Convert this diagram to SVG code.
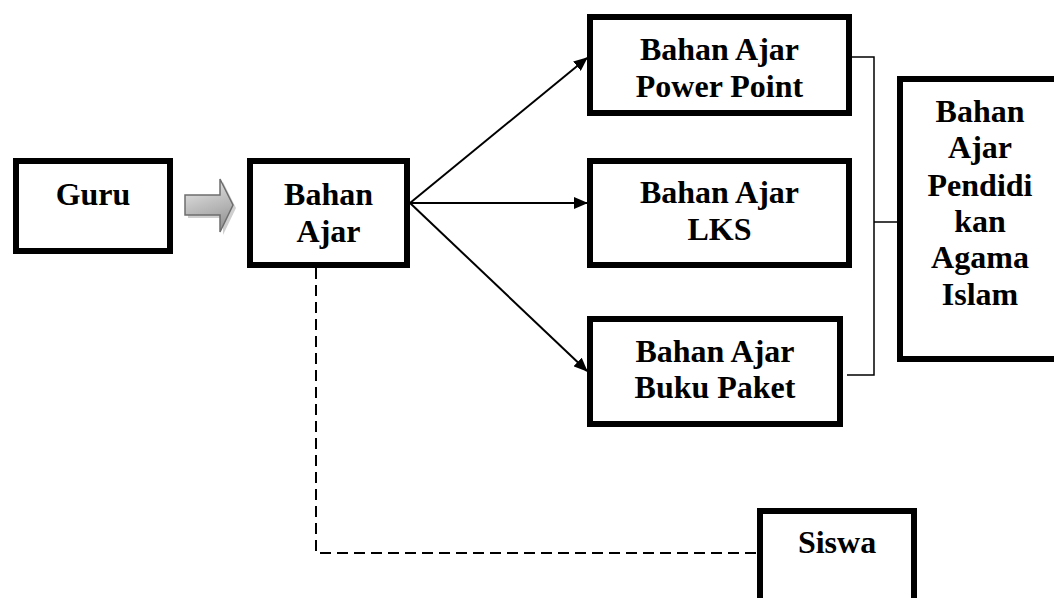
<svg xmlns="http://www.w3.org/2000/svg" width="1054" height="598" viewBox="0 0 1054 598">
<style>
.box{fill:#fff;stroke:#000;stroke-width:6}
.t{font-family:"Liberation Serif","Times New Roman",serif;font-weight:bold;font-size:32px;text-anchor:middle;fill:#000}
.arr{stroke:#000;stroke-width:2;fill:none}
.thin{stroke:#000;stroke-width:1.5;fill:none}
.dash{stroke:#000;stroke-width:2;fill:none;stroke-dasharray:11,6}
</style>
<defs>
<marker id="ah" markerWidth="14" markerHeight="12" refX="13" refY="6" orient="auto" markerUnits="userSpaceOnUse">
<path d="M0,0 L14,6 L0,12 Z" fill="#000"/>
</marker>
<linearGradient id="g" x1="0" y1="0" x2="0.3" y2="1">
<stop offset="0" stop-color="#eeeeee"/>
<stop offset="1" stop-color="#9a9a9a"/>
</linearGradient>
</defs>
<rect width="1054" height="598" fill="#fff"/>
<g id="connectors">
<line class="arr" x1="410" y1="203" x2="587" y2="58" marker-end="url(#ah)"/>
<line class="arr" x1="410" y1="203" x2="587" y2="203" marker-end="url(#ah)"/>
<line class="arr" x1="410" y1="203" x2="587" y2="371" marker-end="url(#ah)"/>
<polyline class="thin" points="852,57 874,57 874,375 847,375"/>
<line class="thin" x1="874" y1="222" x2="897" y2="222"/>
<polyline class="dash" points="316,268 316,553 757,553"/>
<g id="block-arrow">
<path d="M188,198 L223,198 L223,182 L236,208 L223,235 L223,218 L188,218 Z" fill="#cfcfcf"/>
<path d="M185,195 L220,195 L220,179 L233,205 L220,232 L220,215 L185,215 Z" fill="url(#g)" stroke="#6e6e6e" stroke-width="1.5"/>
</g>
</g>
<g id="guru"><rect class="box" x="16" y="161" width="154" height="90"/><text class="t" x="93" y="205">Guru</text></g>
<g id="bahan-ajar"><rect class="box" x="250" y="161" width="157" height="104"/><text class="t" x="328.5" y="205">Bahan</text><text class="t" x="328.5" y="242">Ajar</text></g>
<g id="power-point"><rect class="box" x="590" y="17" width="259" height="96"/><text class="t" x="719.5" y="60">Bahan Ajar</text><text class="t" x="719.5" y="97">Power Point</text></g>
<g id="lks"><rect class="box" x="590" y="161" width="259" height="104"/><text class="t" x="719.5" y="203">Bahan Ajar</text><text class="t" x="719.5" y="240">LKS</text></g>
<g id="buku-paket"><rect class="box" x="590" y="319" width="250" height="105"/><text class="t" x="715" y="362">Bahan Ajar</text><text class="t" x="715" y="398">Buku Paket</text></g>
<g id="pai"><rect class="box" x="900" y="79" width="163" height="280"/>
<text class="t" x="980" y="122">Bahan</text><text class="t" x="980" y="158">Ajar</text><text class="t" x="980" y="196">Pendidi</text><text class="t" x="980" y="232">kan</text><text class="t" x="980" y="268">Agama</text><text class="t" x="980" y="305">Islam</text></g>
<g id="siswa"><rect class="box" x="760" y="511" width="154" height="100"/><text class="t" x="837" y="553">Siswa</text></g>
</svg>
